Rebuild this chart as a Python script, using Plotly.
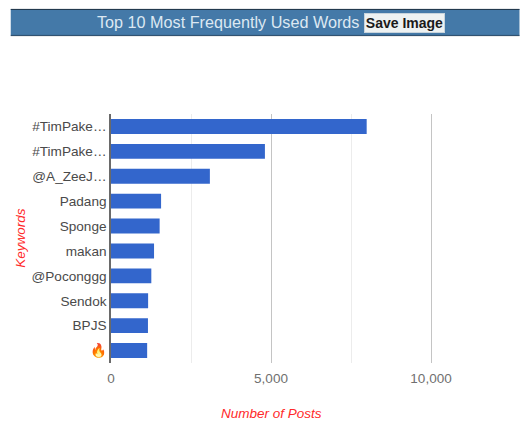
import plotly.graph_objects as go

# Top keywords by number of posts
keywords = ["#TimPake…", "#TimPake…", "@A_ZeeJ…", "Padang", "Sponge", "makan",
            "@Poconggg", "Sendok", "BPJS", "🔥"]
posts = [7990, 4810, 3090, 1565, 1520, 1345, 1260, 1160, 1155, 1130]
major_ticks = [0, 5000, 10000]
major_labels = ["0", "5,000", "10,000"]
minor_ticks = [2500, 7500]

W, H = 520, 436
L, R, T, B = 110.5, 8.5, 114, 73
FONT = "Liberation Sans, Arial, sans-serif"


# Convert page pixels to paper coordinates for the header furniture
def px(x):
    return (x - L) / (W - L - R)


def py(y):
    return 1 - (y - T) / (H - T - B)


fig = go.Figure(go.Bar(
    x=posts,
    y=list(range(len(keywords))),
    orientation="h",
    marker=dict(color="#3366cc", line=dict(width=0)),
    width=0.6,
))

fig.update_layout(
    width=W, height=H,
    margin=dict(l=L, r=R, t=T, b=B, autoexpand=False),
    paper_bgcolor="white",
    plot_bgcolor="white",
    showlegend=False,
    font=dict(family=FONT),
    xaxis=dict(
        range=[0, 12500],
        tickvals=major_ticks,
        ticktext=major_labels,
        showgrid=True,
        gridcolor="#c4c4c4",
        gridwidth=1,
        zeroline=False,
        showline=False,
        ticks="outside",
        ticklen=3,
        tickcolor="rgba(0,0,0,0)",
        tickfont=dict(size=13.5, color="#707070", family=FONT),
        minor=dict(tickvals=minor_ticks, showgrid=True, gridcolor="#ececec", gridwidth=1, ticks=""),
    ),
    yaxis=dict(
        range=[9.5, -0.5],
        tickvals=list(range(len(keywords))),
        ticktext=keywords,
        showgrid=False,
        zeroline=False,
        showline=True,
        linecolor="#6a6a6a",
        linewidth=1.5,
        ticks="",
        tickfont=dict(size=13.6, color="#4a4a4a", family=FONT),
    ),
    shapes=[
        # Header band with its darker edges and a faint shadow underneath
        dict(type="rect", xref="paper", yref="paper", x0=px(10), x1=px(520), y0=py(36.8), y1=py(35.8),
             fillcolor="#e6e6e6", line=dict(width=0), layer="below"),
        dict(type="rect", xref="paper", yref="paper", x0=px(10), x1=px(520), y0=py(35.8), y1=py(9),
             fillcolor="#4479a8", line=dict(width=0), layer="below"),
        dict(type="line", xref="paper", yref="paper", x0=px(10), x1=px(520), y0=py(9.4), y1=py(9.4),
             line=dict(color="#1f3244", width=1), layer="below"),
        dict(type="line", xref="paper", yref="paper", x0=px(10), x1=px(520), y0=py(35.4), y1=py(35.4),
             line=dict(color="#2a4a68", width=1), layer="below"),
    ],
    annotations=[
        dict(text="Top 10 Most Frequently Used Words", xref="paper", yref="paper",
             x=px(228), y=py(22.5), showarrow=False, xanchor="center", yanchor="middle",
             font=dict(size=16.2, color="#dce8f2", family=FONT)),
        dict(text="<b>Save Image</b>", xref="paper", yref="paper",
             x=px(404.5), y=py(23), showarrow=False, xanchor="center", yanchor="middle",
             width=79, height=18, bgcolor="#eef2f2", bordercolor="#c8d4dc", borderwidth=1, borderpad=0,
             font=dict(size=14, color="#1a1a1a", family=FONT)),
        # Axis titles
        dict(text="<i>Number of Posts</i>", xref="paper", yref="paper",
             x=px(271), y=py(413), showarrow=False, xanchor="center", yanchor="middle",
             font=dict(size=13.5, color="#ff2a2a", family=FONT)),
        dict(text="<i>Keywords</i>", xref="paper", yref="paper",
             x=px(19), y=py(238), showarrow=False, xanchor="center", yanchor="middle", textangle=-90,
             font=dict(size=13.5, color="#ff2a2a", family=FONT)),
    ],
)

fig.write_html("out.html")
